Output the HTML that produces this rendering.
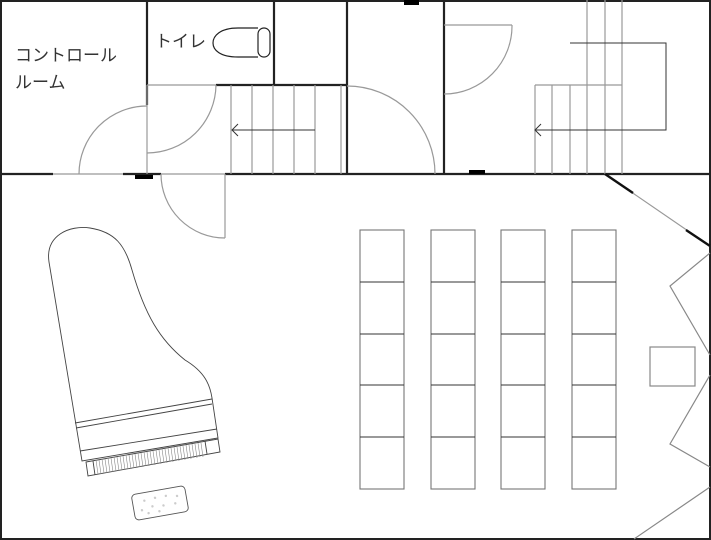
<!DOCTYPE html>
<html><head><meta charset="utf-8"><style>
html,body{margin:0;padding:0;background:#fff}
svg{display:block}
text{font-family:"Liberation Sans","Noto Sans CJK JP",sans-serif;font-size:17px;fill:#333}
</style></head><body>
<svg width="711" height="540" viewBox="0 0 711 540" xmlns="http://www.w3.org/2000/svg">
<g fill="none" stroke-linecap="butt">
<!-- outer -->
<rect x="1" y="1" width="709" height="538" stroke="#222" stroke-width="2"/>
<!-- main horizontal wall -->
<g stroke="#222" stroke-width="2.2">
<line x1="0" y1="174" x2="53" y2="174"/>
<line x1="123" y1="174" x2="161" y2="174"/>
<line x1="225" y1="174" x2="711" y2="174"/>
<line x1="147" y1="0" x2="147" y2="105"/>
<line x1="274" y1="0" x2="274" y2="85"/>
<line x1="216" y1="85" x2="347" y2="85"/>
<line x1="347" y1="0" x2="347" y2="174"/>
<line x1="444" y1="0" x2="444" y2="174"/>
</g>
<g stroke="#999" stroke-width="1.2">
<line x1="53" y1="174" x2="123" y2="174"/>
<line x1="161" y1="174" x2="225" y2="174"/>
<line x1="147" y1="85" x2="147" y2="174"/>
<line x1="147" y1="85" x2="216" y2="85"/>
<!-- doors -->
<path d="M79,174 A68,68 0 0 1 147,106"/>
<path d="M216,85 A69,69 0 0 1 147,153"/>
<path d="M161,174 A64,64 0 0 0 225,238"/>
<line x1="225" y1="174" x2="225" y2="238"/>
<path d="M347,86 A88,88 0 0 1 435,174"/>
<line x1="444" y1="25" x2="512" y2="25"/>
<path d="M512,25 A68,68 0 0 1 444,94"/>
<!-- left stairs -->
<line x1="231" y1="85" x2="231" y2="174"/>
<line x1="252" y1="85" x2="252" y2="174"/>
<line x1="273" y1="85" x2="273" y2="174"/>
<line x1="294" y1="85" x2="294" y2="174"/>
<line x1="315" y1="85" x2="315" y2="174"/>
<line x1="341" y1="85" x2="341" y2="174"/>
<!-- right stairs -->
<line x1="535" y1="85" x2="535" y2="174"/>
<line x1="552" y1="85" x2="552" y2="174"/>
<line x1="570" y1="85" x2="570" y2="174"/>
<line x1="587" y1="0" x2="587" y2="174"/>
<line x1="605" y1="0" x2="605" y2="174"/>
<line x1="622" y1="0" x2="622" y2="174"/>
<line x1="535" y1="85" x2="622" y2="85"/>
</g>
<g stroke="#333" stroke-width="1">
<line x1="315" y1="130" x2="232" y2="130"/>
<polyline points="238,124 232,130 238,136"/>
<polyline points="570,43 666,43 666,130 535,130"/>
<polyline points="541,124 535,130 541,136"/>
</g>
<!-- black blocks -->
<g fill="#000" stroke="none">
<rect x="135" y="175" width="18" height="4"/>
<rect x="404" y="0" width="15" height="5"/>
<rect x="469" y="170" width="16" height="4"/>
</g>
<!-- toilet -->
<g stroke="#222" stroke-width="1.2">
<path d="M258,28 L238,28 C220,28 213,36 213,43 C213,50 220,57 238,57 L258,57"/>
<rect x="258" y="28" width="12" height="29" rx="6"/>
</g>
<!-- right diagonal -->
<line x1="605" y1="174" x2="710" y2="246" stroke="#999" stroke-width="1.2"/>
<line x1="605" y1="174" x2="633" y2="193" stroke="#111" stroke-width="2.4"/>
<line x1="686" y1="230" x2="710" y2="246" stroke="#111" stroke-width="2.4"/>
<g stroke="#888" stroke-width="1.2">
<polyline points="710,253 670,286 710,355"/>
<polyline points="710,375 670,444 710,467"/>
<line x1="710" y1="487" x2="634" y2="539"/>
<rect x="650" y="347" width="45" height="39"/>
</g>
<!-- chairs -->
<g stroke="#777" stroke-width="1.1">
<rect x="360" y="230" width="44" height="259"/>
<rect x="431" y="230" width="44" height="259"/>
<rect x="501" y="230" width="44" height="259"/>
<rect x="572" y="230" width="44" height="259"/>
</g>
<g stroke="#333" stroke-width="1">
<path d="M360,282h44M360,334h44M360,385h44M360,437h44"/>
<path d="M431,282h44M431,334h44M431,385h44M431,437h44"/>
<path d="M501,282h44M501,334h44M501,385h44M501,437h44"/>
<path d="M572,282h44M572,334h44M572,385h44M572,437h44"/>
</g>
<!-- piano -->
<g stroke="#444" stroke-width="0.9">
<path d="M49,262 C45,235 70,225 90,228 C115,232 125,245 132,270 C145,315 160,340 185,360 C205,372 210,385 212,398 L218,438 L82,461 Z"/>
<line x1="75" y1="423" x2="212" y2="399"/>
<line x1="76" y1="428" x2="212" y2="404"/>
<line x1="80" y1="451" x2="217" y2="429"/>
<polygon points="86,462 218,439 220,452 88,476"/>
<line x1="93" y1="461" x2="95" y2="475"/>
<line x1="205" y1="441" x2="207" y2="454"/>
</g>
<g stroke="#888" stroke-width="0.6">
<path d="M96,460 l2,14 M99,460 l2,14 M102,459 l2,14 M105,459 l2,14 M108,458 l2,14 M111,458 l2,14 M114,457 l2,14 M117,457 l2,14 M120,456 l2,14 M123,456 l2,14 M126,455 l2,14 M129,455 l2,14 M132,454 l2,14 M135,454 l2,14 M138,453 l2,14 M141,453 l2,14 M144,452 l2,14 M147,452 l2,14 M150,451 l2,14 M153,451 l2,14 M156,450 l2,14 M159,450 l2,14 M162,449 l2,14 M165,449 l2,14 M168,448 l2,14 M171,448 l2,14 M174,447 l2,14 M177,447 l2,14 M180,446 l2,14 M183,446 l2,14 M186,445 l2,14 M189,445 l2,14 M192,444 l2,14 M195,444 l2,14 M198,443 l2,14 M201,443 l2,14"/>
</g>
<g transform="rotate(-10 160 503)">
<rect x="133" y="490" width="54" height="26" rx="4" stroke="#555" stroke-width="0.9"/>
<g fill="#ccc" stroke="none">
<circle cx="145" cy="498" r="1.2"/><circle cx="156" cy="497" r="1.2"/><circle cx="167" cy="497" r="1.2"/><circle cx="178" cy="499" r="1.2"/>
<circle cx="141" cy="507" r="1.2"/><circle cx="152" cy="505" r="1.2"/><circle cx="163" cy="506" r="1.2"/><circle cx="175" cy="506" r="1.2"/>
<circle cx="147" cy="511" r="1.2"/><circle cx="158" cy="511" r="1.2"/>
</g>
</g>
</g>
<text x="15" y="61">コントロール</text>
<text x="15" y="88">ルーム</text>
<text x="155" y="47">トイレ</text>
</svg>
</body></html>
